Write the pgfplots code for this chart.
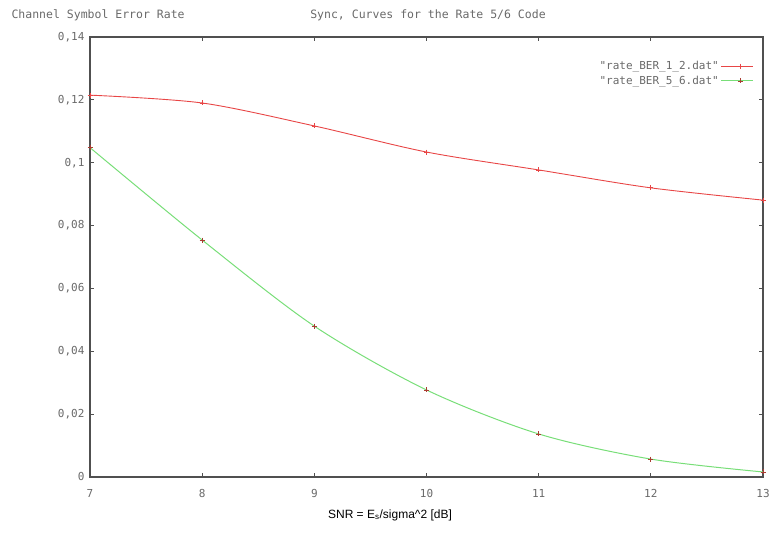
\documentclass[border=0pt]{standalone}
\usepackage{pgfplots}
\pgfplotsset{compat=1.18}
\usepackage{fontspec}
\setmainfont{DejaVu Sans Mono}[Ligatures=TeXOff]
\newfontfamily\arialfont{Liberation Sans}
\definecolor{gpred}{RGB}{232,70,70}
\definecolor{gpgreen}{RGB}{120,222,120}
\definecolor{gpmark}{RGB}{170,60,50}
\definecolor{gptext}{RGB}{105,105,105}
\definecolor{gpaxis}{RGB}{80,80,80}
\begin{document}
\begin{tikzpicture}[x=1pt,y=1pt]
\path[use as bounding box] (0,0) rectangle (774,534);
\begin{axis}[
  at={(90pt,57pt)}, anchor=south west,
  scale only axis, width=673pt, height=440pt,
  xmin=7, xmax=13, ymin=0, ymax=0.14,
  xtick={7,8,9,10,11,12,13},
  ytick={0,0.02,0.04,0.06,0.08,0.1,0.12,0.14},
  /pgf/number format/use comma,
  /pgf/number format/assume math mode=true,
  scaled y ticks=false,
  yticklabel style={/pgf/number format/fixed},
  tick label style={font=\fontsize{11}{12}\selectfont, text=gptext},
  xticklabel style={yshift=-9pt},
  yticklabel style={xshift=-2pt},
  tick align=inside, major tick length=4pt,
  tick style={gpaxis, line width=1pt},
  axis line style={gpaxis, line width=1.6pt},
  legend plot pos=right,
  legend cell align=right,
  legend image code/.code={\path (0pt,0pt) -- (6pt,0pt); \draw[mark repeat=2,mark phase=2] plot coordinates {(6pt,0pt) (19pt,0pt) (32pt,0pt)};},
  legend style={draw=none, fill=none, at={(1,1)}, anchor=north east,
    xshift=-6pt, yshift=-20pt, font=\fontsize{11}{12}\selectfont, text=gptext,
    row sep=1pt},
]
\addplot[gpred, line width=0.9pt, smooth, mark=+, mark size=2.5pt,
  mark options={gpred, line width=0.8pt}]
  coordinates {(7,0.1215) (8,0.119) (9,0.1117) (10,0.1034) (11,0.0977) (12,0.092) (13,0.0881)};
\addlegendentry{"rate\_BER\_1\_2.dat"}
\addplot[gpgreen, line width=1pt, smooth, mark=+, mark size=2.5pt,
  mark options={gpmark, line width=0.8pt}]
  coordinates {(7,0.1048) (8,0.0754) (9,0.048) (10,0.0277) (11,0.0137) (12,0.0057) (13,0.0016)};
\addlegendentry{"rate\_BER\_5\_6.dat"}
\end{axis}
\node[anchor=west, text=gptext, font=\fontsize{11.5}{13}\selectfont] at (8,519) {Channel Symbol Error Rate};
\node[text=gptext, font=\fontsize{11.5}{13}\selectfont] at (428,519) {Sync, Curves for the Rate 5/6 Code};
\node[font=\arialfont\fontsize{12}{14}\selectfont] at (390,19) {SNR = E\textsubscript{s}/sigma\^{}2 [dB]};
\end{tikzpicture}
\end{document}
